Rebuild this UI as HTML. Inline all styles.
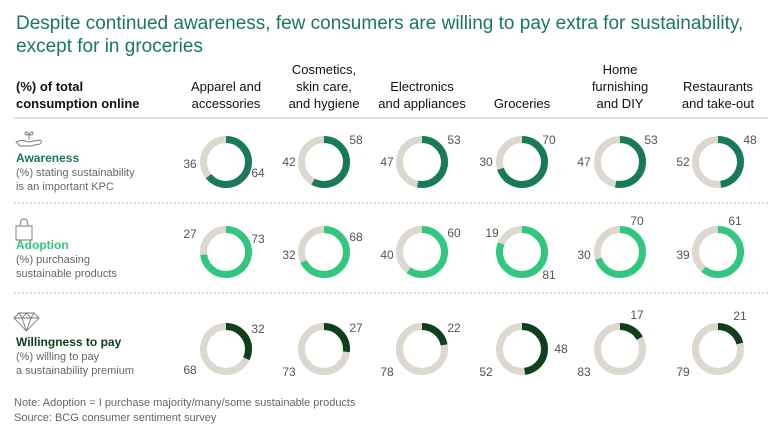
<!DOCTYPE html>
<html><head><meta charset="utf-8"><style>
body{margin:0;width:768px;height:432px;background:#fff;overflow:hidden;font-family:"Liberation Sans",sans-serif}
svg text{font-family:"Liberation Sans",sans-serif}
</style></head><body>
<svg id="chart" width="768" height="432" viewBox="0 0 768 432">
<g fill="#197a56" font-size="19">
<text x="16" y="29">Despite continued awareness, few consumers are willing to pay extra for sustainability,</text>
<text x="16" y="52">except for in groceries</text>
</g>
<g font-size="13" font-weight="bold" fill="#111">
<text x="16" y="91">(%) of total</text>
<text x="16" y="108">consumption online</text>
</g>
<g id="colheads" font-size="13" fill="#111" text-anchor="middle"></g>
<line x1="14" y1="118" x2="768" y2="118" stroke="#ccc" stroke-width="1.2"/>
<line x1="14" y1="203" x2="768" y2="203" stroke="#bbb" stroke-dasharray="2,2"/>
<line x1="14" y1="293" x2="768" y2="293" stroke="#bbb" stroke-dasharray="2,2"/>

<g>
<g fill="none" stroke="#777" stroke-width="0.9">
<path d="M16 142 Q22 139 28 142 L40 140 Q43 141 40 144 L30 146 L20 146 Z"/>
<path d="M29 140 L29 134 M29 134 Q25 130 25 134 Q27 136 29 134 M29 134 Q33 130 33 134 Q31 136 29 134"/>
</g>
<text x="16" y="162" font-size="12" font-weight="bold" fill="#197a56">Awareness</text>
<text x="16" y="176" font-size="11" fill="#666">(%) stating sustainability</text>
<text x="16" y="190" font-size="11" fill="#666">is an important KPC</text>
</g>
<g>
<path d="M16 226 L16 240 L32 240 L32 226 Z M20 226 Q20 219 24 219 Q28 219 28 226" fill="none" stroke="#777" stroke-width="0.9"/>
<text x="16" y="249" font-size="12" font-weight="bold" fill="#32c77f">Adoption</text>
<text x="16" y="263" font-size="11" fill="#666">(%) purchasing</text>
<text x="16" y="277" font-size="11" fill="#666">sustainable products</text>
</g>
<g>
<path d="M14 318 L19 313 L34 313 L39 318 L26.5 331 Z M14 318 L39 318 M19 313 L22 318 L26.5 331 M34 313 L31 318 L26.5 331 M22 318 L26.5 313 L31 318" fill="none" stroke="#777" stroke-width="0.9"/>
<text x="16" y="346" font-size="12" font-weight="bold" fill="#0e3e1b">Willingness to pay</text>
<text x="16" y="360" font-size="11" fill="#666">(%) willing to pay</text>
<text x="16" y="374" font-size="11" fill="#666">a sustainability premium</text>
</g>
<g id="donuts"></g>
<g font-size="11" fill="#666">
<text x="14" y="406">Note: Adoption = I purchase majority/many/some sustainable products</text>
<text x="14" y="421">Source: BCG consumer sentiment survey</text>
</g>
</svg>
<script>
const categories = [["Apparel and","accessories"],["Cosmetics,","skin care,","and hygiene"],["Electronics","and appliances"],["Groceries"],["Home","furnishing","and DIY"],["Restaurants","and take-out"]];
const awareness = [64,58,53,70,53,48];
const adoption = [73,68,60,81,70,61];
const willingness = [32,27,22,48,17,21];

const NS="http://www.w3.org/2000/svg";
const colX=[226,324,422,522,620,718];
const rowY=[162,252,349];
const colors=["#197a56","#32c77f","#0e3e1b"];
const series=[awareness,adoption,willingness];
const rowNames=["awareness","adoption","willingness"];
// label offsets [valueDx,valueDy,restDx,restDy]
const offs=[
 [[32,12,-36,3],[32,-21,-35,1],[32,-21,-35,1],[27,-21,-36,1],[31,-21,-36,1],[32,-21,-35,1]],
 [[32,-12,-36,-17],[32,-14,-35,4],[32,-18,-35,4],[27,24,-30,-18],[17,-30,-36,4],[17,-30,-35,4]],
 [[32,-19,-36,22],[32,-20,-35,24],[32,-20,-35,24],[39,1,-36,24],[17,-33,-36,24],[22,-32,-35,24]]
];
const heads=document.getElementById('colheads');
categories.forEach((lines,i)=>{
  const t=document.createElementNS(NS,'text');
  
  
  t.setAttribute('x',colX[i]);
  lines.forEach((l,j)=>{
    const ts=document.createElementNS(NS,'tspan');
    ts.setAttribute('x',colX[i]);
    ts.setAttribute('y',108-(lines.length-1-j)*17);
    ts.textContent=l;t.appendChild(ts);
  });
  heads.appendChild(t);
});
const R=22.5, SW=7, C=2*Math.PI*R;
const g=document.getElementById('donuts');
series.forEach((vals,r)=>{
  vals.forEach((v,i)=>{
    const cx=colX[i], cy=rowY[r];
    const bg=document.createElementNS(NS,'circle');
    
    
    bg.setAttribute('cx',cx);bg.setAttribute('cy',cy);bg.setAttribute('r',R);
    bg.setAttribute('fill','none');bg.setAttribute('stroke','#dcd8d0');bg.setAttribute('stroke-width',SW);
    g.appendChild(bg);
    const arc=document.createElementNS(NS,'circle');
    
    
    arc.setAttribute('cx',cx);arc.setAttribute('cy',cy);arc.setAttribute('r',R);
    arc.setAttribute('fill','none');arc.setAttribute('stroke',colors[r]);arc.setAttribute('stroke-width',SW);
    arc.setAttribute('stroke-dasharray',(v/100*C)+' '+C);
    arc.setAttribute('transform','rotate(-90 '+cx+' '+cy+')');
    g.appendChild(arc);
    const o=offs[r][i];
    [[v,o[0],o[1],'value'],[100-v,o[2],o[3],'rest']].forEach(([n,dx,dy,k])=>{
      const t=document.createElementNS(NS,'text');
      
      
      t.setAttribute('x',cx+dx);t.setAttribute('y',cy+dy);
      t.setAttribute('text-anchor','middle');t.setAttribute('dominant-baseline','middle');
      t.setAttribute('font-size','12');t.setAttribute('fill','#555');
      t.textContent=n;g.appendChild(t);
    });
  });
});
</script>
</body></html>
